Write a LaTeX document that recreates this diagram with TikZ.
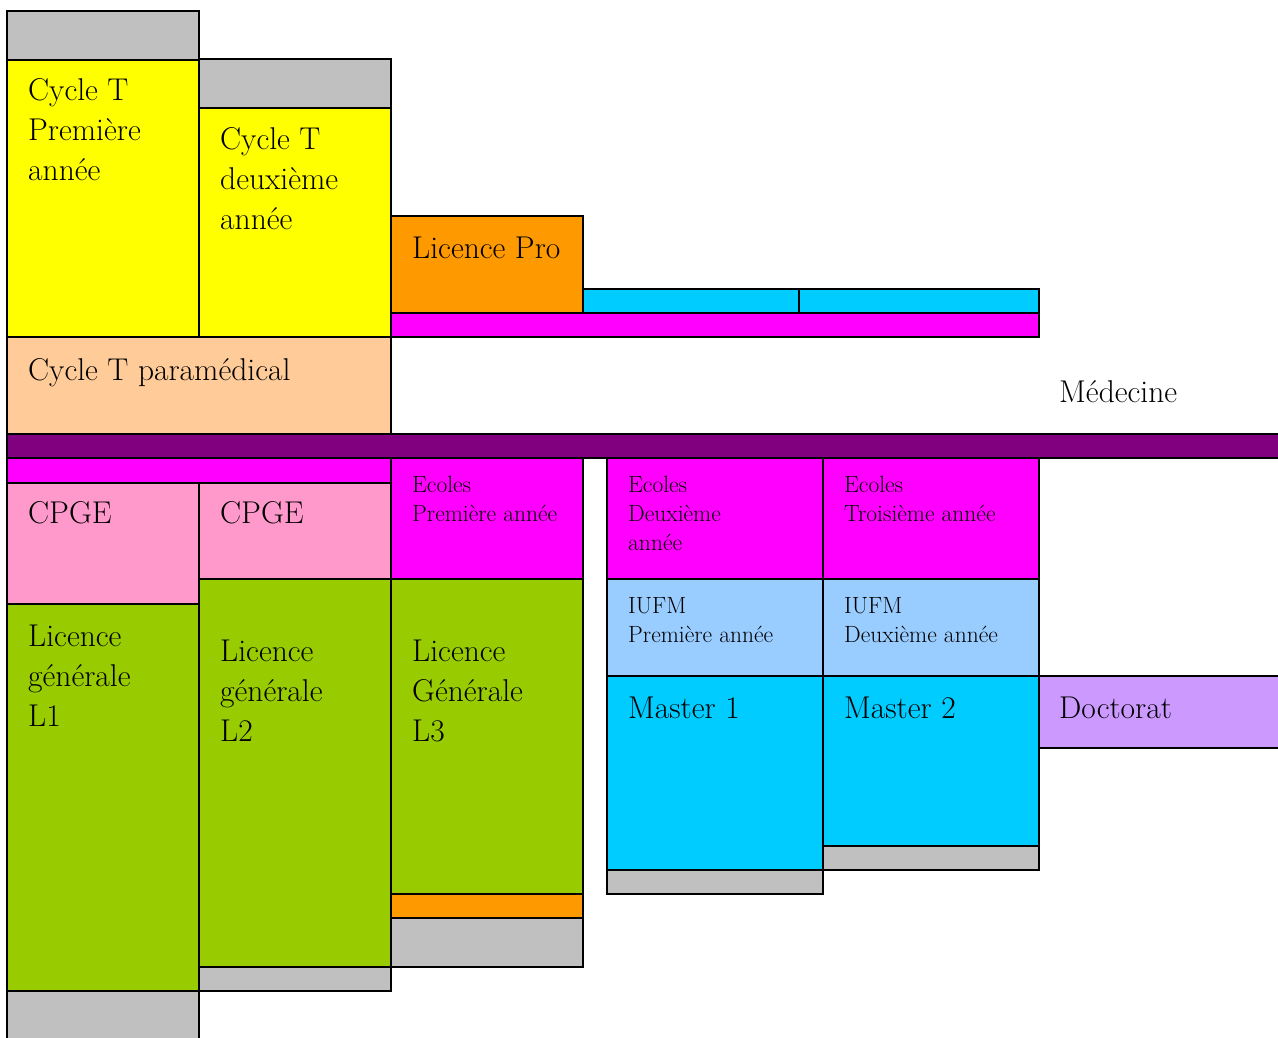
\documentclass[tikz,border=0pt]{standalone}
\definecolor{cgrey}{HTML}{C0C0C0}
\definecolor{cyellow}{HTML}{FFFF00}
\definecolor{corange}{HTML}{FF9900}
\definecolor{ccyan}{HTML}{00CCFF}
\definecolor{cmagenta}{HTML}{FF00FF}
\definecolor{cpeach}{HTML}{FFCC99}
\definecolor{cpurple}{HTML}{800080}
\definecolor{cpink}{HTML}{FF99CC}
\definecolor{cgreen}{HTML}{99CC00}
\definecolor{cblue}{HTML}{99CCFF}
\definecolor{clav}{HTML}{CC99FF}
\tikzset{
  cell/.style={draw=black,line width=1.5pt},
  bigtxt/.style={anchor=base west,inner sep=0pt,align=left,font=\fontsize{31.5}{40}\selectfont},
  smalltxt/.style={anchor=base west,inner sep=0pt,align=left,font=\fontsize{23.5}{29}\selectfont}
}
\begin{document}
\begin{tikzpicture}[x=1pt,y=-1pt]
\useasboundingbox (0,0) rectangle (1278,1037);
% top part
\path[cell,fill=cgrey] (7,11) rectangle (199,60);
\path[cell,fill=cyellow] (7,60) rectangle (199,337);
\path[cell,fill=cgrey] (199,59) rectangle (391,108);
\path[cell,fill=cyellow] (199,108) rectangle (391,337);
\path[cell,fill=corange] (391,216) rectangle (583,313);
\path[cell,fill=ccyan] (583,289) rectangle (799,313);
\path[cell,fill=ccyan] (799,289) rectangle (1039,313);
\path[cell,fill=cmagenta] (391,313) rectangle (1039,337);
\path[cell,fill=cpeach] (7,337) rectangle (391,434);
\path[cell,fill=cpurple] (7,434) rectangle (1295,458);
% bottom left
\path[cell,fill=cmagenta] (7,458) rectangle (391,483);
\path[cell,fill=cpink] (7,483) rectangle (199,604);
\path[cell,fill=cpink] (199,483) rectangle (391,579);
\path[cell,fill=cmagenta] (391,458) rectangle (583,579);
\path[cell,fill=cgreen] (7,604) rectangle (199,991);
\path[cell,fill=cgrey] (7,991) rectangle (199,1060);
\path[cell,fill=cgreen] (199,579) rectangle (391,967);
\path[cell,fill=cgrey] (199,967) rectangle (391,991);
\path[cell,fill=cgreen] (391,579) rectangle (583,894);
\path[cell,fill=corange] (391,894) rectangle (583,918);
\path[cell,fill=cgrey] (391,918) rectangle (583,967);
% bottom right
\path[cell,fill=cmagenta] (607,458) rectangle (823,579);
\path[cell,fill=cmagenta] (823,458) rectangle (1039,579);
\path[cell,fill=cblue] (607,579) rectangle (823,676);
\path[cell,fill=cblue] (823,579) rectangle (1039,676);
\path[cell,fill=ccyan] (607,676) rectangle (823,870);
\path[cell,fill=cgrey] (607,870) rectangle (823,894);
\path[cell,fill=ccyan] (823,676) rectangle (1039,846);
\path[cell,fill=cgrey] (823,846) rectangle (1039,870);
\path[cell,fill=clav] (1039,676) rectangle (1295,748);
% texts (base anchor = baseline of last line)
\node[bigtxt] (t1) at (28,180) {Cycle T\\Première\\année};
\node[bigtxt] (t2) at (220,229) {Cycle T\\deuxième\\année};
\node[bigtxt] (lp) at (412,258) {Licence Pro};
\node[bigtxt] (para) at (28,380) {Cycle T paramédical};
\node[bigtxt] (med) at (1059,402) {Médecine};
\node[bigtxt] (cp1) at (28,523) {CPGE};
\node[bigtxt] (cp2) at (220,523) {CPGE};
\node[smalltxt] (e1) at (412,521) {Ecoles\\Première année};
\node[bigtxt] (l1) at (28,726) {Licence\\générale\\L1};
\node[bigtxt] (l2) at (220,741) {Licence\\générale\\L2};
\node[bigtxt] (l3) at (412,741) {Licence\\Générale\\L3};
\node[smalltxt] (e2) at (628,550) {Ecoles\\Deuxième\\année};
\node[smalltxt] (e3) at (844,521) {Ecoles\\Troisième année};
\node[smalltxt] (i1) at (628,642) {IUFM\\Première année};
\node[smalltxt] (i2) at (844,642) {IUFM\\Deuxième année};
\node[bigtxt] (m1) at (628,718) {Master 1};
\node[bigtxt] (m2) at (844,718) {Master 2};
\node[bigtxt] (doc) at (1059,718) {Doctorat};
\end{tikzpicture}
\end{document}
